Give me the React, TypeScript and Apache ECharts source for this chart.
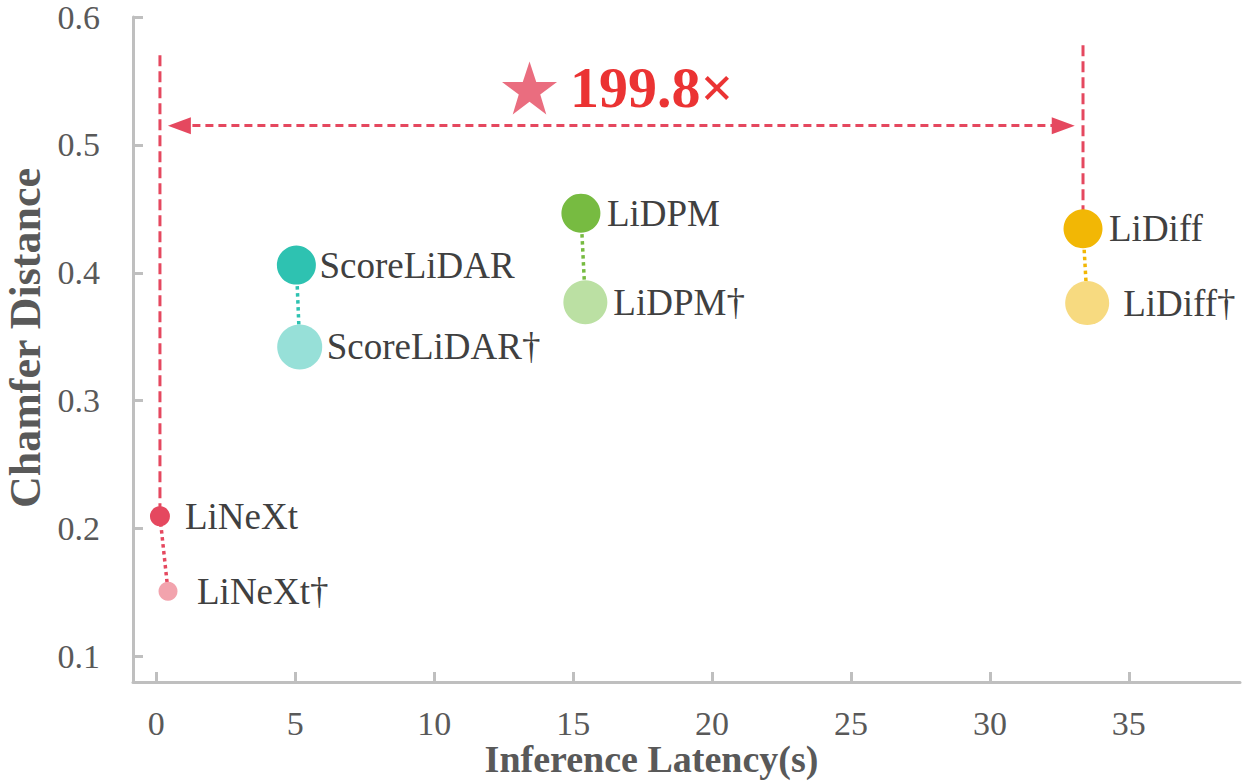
import React, { useEffect, useRef } from 'react';
import * as echarts from 'echarts';

// ---- data ----
const methods = ['LiNeXt', 'ScoreLiDAR', 'LiDPM', 'LiDiff'];
const latency = [0.13, 5.04, 15.28, 33.35];
const chamfer = [0.2096, 0.406, 0.4466, 0.4344];
const latencyDagger = [0.42, 5.16, 15.44, 33.5];
const chamferDagger = [0.151, 0.342, 0.377, 0.3763];
const xTicks = [0, 5, 10, 15, 20, 25, 30, 35];
const yTicks = [0.1, 0.2, 0.3, 0.4, 0.5, 0.6];
const speedupLabel = '199.8×';
const arrowRange = [0.83, 32.64];
const arrowY = 0.515;
const guideTop = [0.57, 0.578];
const starPos = [13.43, 0.5445];

// ---- styles ----
const baseColors = ['#e5485f', '#2ec2b1', '#77bb41', '#f2b705'];
const lightColors = ['#f2a3ad', '#97e0d8', '#bbe0a3', '#f7da80'];
const baseSizes = [20, 39, 39, 39];
const lightSizes = [19, 45, 44, 44];
const baseLabelDist = [15, 3.5, 6.5, 6.5];
const lightLabelDist = [19.5, 4.5, 6, 14];
const RED = '#e5485f';
const AXIS = '#bfbfbf';
const FONT = "'Liberation Serif', 'Times New Roman', serif";
const STAR =
  'path://M50,0 L61.8,35.1 L98.1,35.1 L68.8,56.7 L79.4,90.9 L50,69.1 L20.6,90.9 L31.2,56.7 L1.9,35.1 L38.2,35.1 Z';

export default function App() {
  const ref = useRef<HTMLDivElement>(null);
  useEffect(() => {
    document.body.style.margin = '0';
    const chart = echarts.init(ref.current!, null, { renderer: 'svg' });

    const connectors = methods.map((m, i) => ({
      type: 'line',
      name: m + '-link',
      data: [
        [latency[i], chamfer[i]],
        [latencyDagger[i], chamferDagger[i]],
      ],
      symbol: 'none',
      silent: true,
      z: 2,
      lineStyle: { color: baseColors[i], width: 3.5, type: [3.5, 3.5] },
    }));

    const guides = [0, 3].map((idx, k) => ({
      type: 'line',
      name: 'guide' + k,
      data: [
        [latency[idx], guideTop[k]],
        [latency[idx], chamfer[idx]],
      ],
      symbol: 'none',
      silent: true,
      z: 1,
      lineStyle: { color: RED, width: 3, type: [11, 5] },
    }));

    const points: any[] = [];
    methods.forEach((m, i) => {
      points.push({
        name: m,
        value: [latency[i], chamfer[i]],
        symbolSize: baseSizes[i],
        itemStyle: { color: baseColors[i] },
        label: { distance: baseLabelDist[i] },
      });
      points.push({
        name: m + '†',
        value: [latencyDagger[i], chamferDagger[i]],
        symbolSize: lightSizes[i],
        itemStyle: { color: lightColors[i] },
        label: { distance: lightLabelDist[i] },
      });
    });

    chart.setOption({
      animation: false,
      grid: { left: 133, right: 5, top: 17, bottom: 101, outerBoundsMode: 'none' },
      xAxis: {
        type: 'value',
        min: -0.84,
        max: 39,
        splitLine: { show: false },
        axisLine: { show: true, onZero: false, lineStyle: { color: AXIS, width: 3 } },
        axisTick: { show: true, inside: true, length: 10, customValues: xTicks, lineStyle: { color: AXIS, width: 3 } },
        axisLabel: { customValues: xTicks, margin: 24, fontSize: 34, color: '#595959', fontFamily: FONT },
        name: 'Inference Latency(s)',
        nameLocation: 'middle',
        nameGap: 58,
        nameMoveOverlap: false,
        nameTextStyle: { fontSize: 38, fontWeight: 'bold', color: '#595959', fontFamily: FONT, padding: [0, 70, 0, 0] },
      },
      yAxis: {
        type: 'value',
        min: 0.08,
        max: 0.6,
        splitLine: { show: false },
        axisLine: { show: true, onZero: false, lineStyle: { color: AXIS, width: 3 } },
        axisTick: { show: true, inside: true, length: 10, customValues: yTicks, lineStyle: { color: AXIS, width: 3 } },
        axisLabel: {
          customValues: yTicks,
          margin: 33,
          fontSize: 34,
          color: '#595959',
          fontFamily: FONT,
          formatter: (v: number) => v.toFixed(1),
        },
        name: 'Chamfer Distance',
        nameLocation: 'middle',
        nameGap: 86,
        nameMoveOverlap: false,
        nameTextStyle: { fontSize: 44, fontWeight: 'bold', color: '#595959', fontFamily: FONT, padding: [0, 0, 0, 23] },
      },
      series: [
        ...guides,
        ...connectors,
        {
          type: 'line',
          name: 'arrow',
          data: [],
          silent: true,
          markLine: {
            silent: true,
            symbol: ['triangle', 'triangle'],
            symbolSize: [17, 23],
            label: { show: false },
            lineStyle: { color: RED, width: 3, type: [8, 5] },
            data: [
              [
                { coord: [arrowRange[0], arrowY] },
                { coord: [arrowRange[1], arrowY] },
              ],
            ],
          },
        },
        {
          type: 'scatter',
          name: 'methods',
          z: 5,
          data: points,
          itemStyle: { opacity: 1 },
          label: {
            show: true,
            position: 'right',
            formatter: '{b}',
            fontSize: 37,
            color: '#404040',
            fontFamily: FONT,
          },
        },
        {
          type: 'scatter',
          name: 'speedup',
          z: 5,
          symbol: STAR,
          symbolSize: [55, 53],
          itemStyle: { color: RED },
          data: [{ name: speedupLabel, value: starPos }],
          label: {
            show: true,
            position: 'right',
            distance: 13,
            formatter: '{b}',
            fontSize: 58,
            fontWeight: 900,
            color: '#e60000',
            fontFamily: FONT,
          },
        },
      ],
    });
    return () => chart.dispose();
  }, []);
  return <div ref={ref} style={{ width: 1245, height: 783 }} />;
}
